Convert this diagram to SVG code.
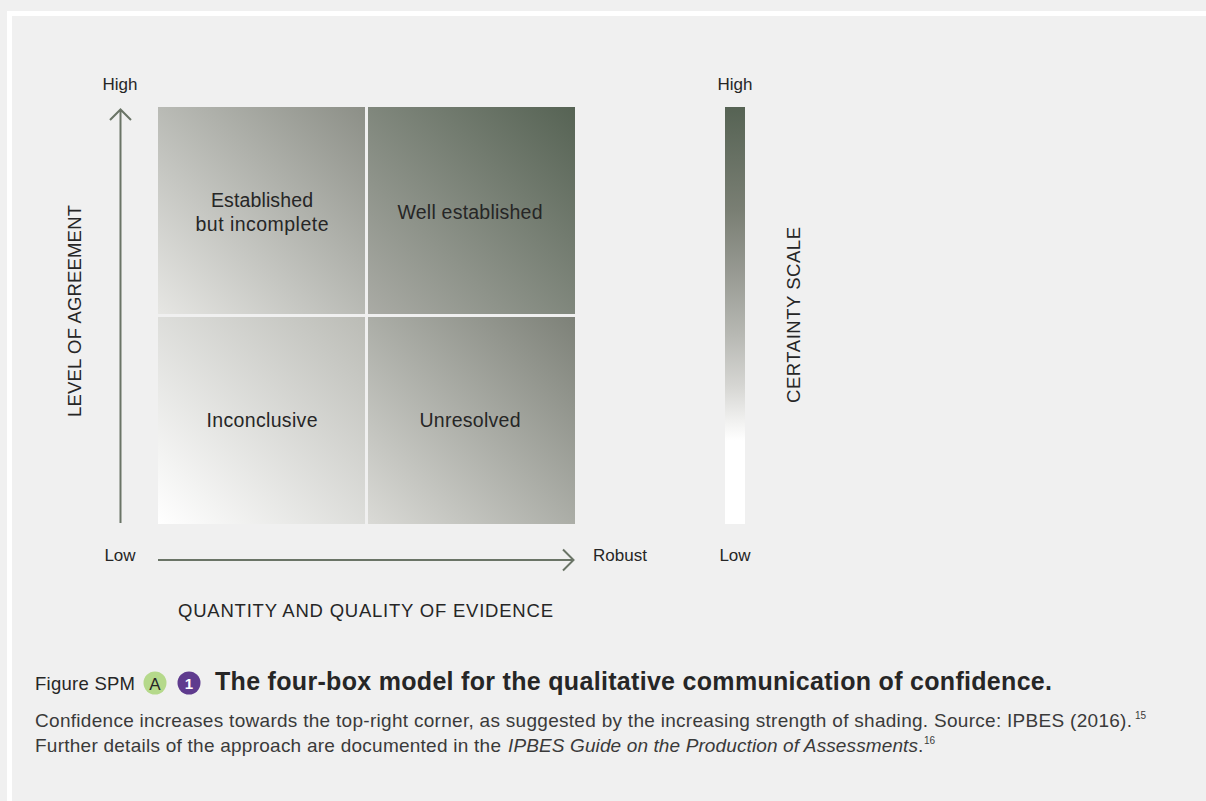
<svg xmlns="http://www.w3.org/2000/svg" width="1206" height="801" viewBox="0 0 1206 801">
<style>
  text { font-family: "Liberation Sans", Arial, sans-serif; fill: #262626; }
  .lbl { font-size: 17px; }
  .box { font-size: 19.5px; text-anchor: middle; }
  .ttl { font-size: 18.5px; text-anchor: middle; }
  .axis { stroke: #6a7466; stroke-width: 2; fill: none; }
  .cap { font-size: 18.5px; }
  .body { font-size: 19px; fill: #3a3a3a; }
  .sup { font-size: 10px; fill: #3a3a3a; }
</style>
<defs>
  <linearGradient id="gTL" x1="0" y1="1" x2="1" y2="0">
    <stop offset="0" stop-color="#e6e6e3"/><stop offset="1" stop-color="#8c8f87"/>
  </linearGradient>
  <linearGradient id="gTR" x1="0" y1="1" x2="1" y2="0">
    <stop offset="0" stop-color="#aaaba5"/><stop offset="1" stop-color="#566354"/>
  </linearGradient>
  <linearGradient id="gBL" x1="0" y1="1" x2="1" y2="0">
    <stop offset="0" stop-color="#ffffff"/><stop offset="1" stop-color="#bbbcb6"/>
  </linearGradient>
  <linearGradient id="gBR" x1="0" y1="1" x2="1" y2="0">
    <stop offset="0" stop-color="#dadad6"/><stop offset="1" stop-color="#7d8178"/>
  </linearGradient>
  <linearGradient id="gScale" x1="0" y1="0" x2="0" y2="1">
    <stop offset="0" stop-color="#566354"/>
    <stop offset="0.25" stop-color="#7a7f74"/>
    <stop offset="0.4" stop-color="#989a93"/>
    <stop offset="0.55" stop-color="#b8b9b4"/>
    <stop offset="0.67" stop-color="#d6d6d3"/>
    <stop offset="0.76" stop-color="#f3f3f2"/>
    <stop offset="0.8" stop-color="#ffffff"/>
    <stop offset="1" stop-color="#ffffff"/>
  </linearGradient>
</defs>

<rect x="0" y="0" width="1206" height="801" fill="#f0f0f0"/>
<rect x="7" y="11" width="1199" height="790" fill="#ffffff"/>
<rect x="12" y="16" width="1194" height="785" fill="#f0f0f0"/>

<g id="box-established-incomplete">
  <rect x="158" y="107" width="207" height="207" fill="url(#gTL)"/>
  <text class="box" x="262" y="207" textLength="102">Established</text>
  <text class="box" x="262" y="231" textLength="133">but incomplete</text>
</g>
<g id="box-well-established">
  <rect x="368" y="107" width="207" height="207" fill="url(#gTR)"/>
  <text class="box" x="470" y="219" textLength="145">Well established</text>
</g>
<g id="box-inconclusive">
  <rect x="158" y="317" width="207" height="207" fill="url(#gBL)"/>
  <text class="box" x="262" y="427" textLength="111">Inconclusive</text>
</g>
<g id="box-unresolved">
  <rect x="368" y="317" width="207" height="207" fill="url(#gBR)"/>
  <text class="box" x="470" y="427" textLength="101">Unresolved</text>
</g>

<g id="certainty-scale">
  <rect x="725" y="107" width="20" height="417" fill="url(#gScale)"/>
  <text class="lbl" x="735" y="90" text-anchor="middle">High</text>
  <text class="lbl" x="735" y="561" text-anchor="middle">Low</text>
  <text class="ttl" transform="translate(800,315) rotate(-90)" textLength="176">CERTAINTY SCALE</text>
</g>

<g id="y-axis-labels">
  <text class="lbl" x="120" y="90" text-anchor="middle">High</text>
  <text class="lbl" x="120" y="561" text-anchor="middle">Low</text>
  <text class="ttl" transform="translate(81,311) rotate(-90)" textLength="212">LEVEL OF AGREEMENT</text>
</g>
<g id="x-axis-labels">
  <text class="lbl" x="593" y="561">Robust</text>
  <text class="ttl" x="365.5" y="617" textLength="375">QUANTITY AND QUALITY OF EVIDENCE</text>
</g>

<g id="connectors">
  <path class="axis" d="M120.5 523 V110 M110 120 L120.5 109.5 L131 120"/>
  <path class="axis" d="M158 560 H573 M563 549.5 L573.5 560 L563 570.5"/>
</g>

<g id="caption">
  <text class="cap" x="35" y="690" textLength="100">Figure SPM</text>
  <circle cx="155" cy="683" r="11.5" fill="#b5d98b"/>
  <text x="155" y="689.5" font-size="17" text-anchor="middle" fill="#2b2b2b">A</text>
  <circle cx="189" cy="683" r="11.5" fill="#5f3b8e"/>
  <text x="189" y="689" font-size="15" font-weight="bold" text-anchor="middle" style="fill:#ffffff">1</text>
  <text x="215" y="690" font-size="25" font-weight="bold" textLength="837">The four-box model for the qualitative communication of confidence.</text>
  <text class="body" x="35" y="727" textLength="1097">Confidence increases towards the top-right corner, as suggested by the increasing strength of shading. Source: IPBES (2016).</text>
  <text class="sup" x="1135" y="719">15</text>
  <text class="body" x="35" y="752" textLength="466">Further details of the approach are documented in the</text>
  <text class="body" x="508" y="752" textLength="410" font-style="italic">IPBES Guide on the Production of Assessments</text>
  <text class="body" x="918" y="752">.</text>
  <text class="sup" x="924" y="744">16</text>
</g>
</svg>
